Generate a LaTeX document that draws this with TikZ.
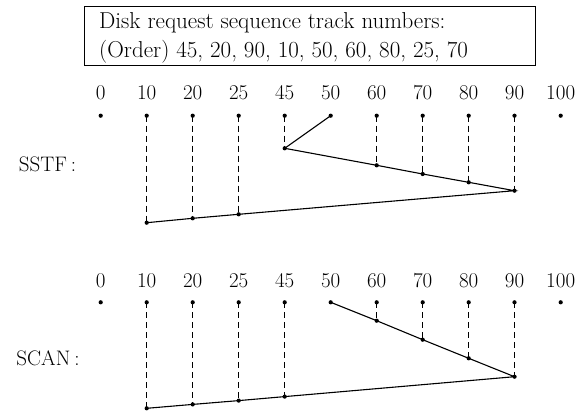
\documentclass[tikz,border=0pt]{standalone}
\begin{document}
\begin{tikzpicture}[x=1pt,y=-1pt,
  lbl/.style={font=\fontsize{21}{24}\selectfont, inner sep=0pt},
  pt/.style={circle, fill, inner sep=0pt, minimum size=4.2pt},
  seek/.style={line width=1.1pt},
  guide/.style={line width=1pt, dash pattern=on 6pt off 4pt}]
\useasboundingbox (0,0) rectangle (581,410);

% request box
\node[draw, line width=1pt, minimum width=451pt, minimum height=59pt, inner sep=0pt] (box) at (309.5,35.5) {};
\node[lbl, anchor=west, align=left, font=\fontsize{23}{29}\selectfont] (req) at (99,37.5)
  {Disk request sequence track numbers:\\(Order) 45, 20, 90, 10, 50, 60, 80, 25, 70};

% SSTF track axis
\foreach \t/\x in {0/100.7,10/146.7,20/192.7,25/238.7,45/284.7,50/330.7,60/376.7,70/422.7,80/468.7,90/514.5,100/560.7} {
  \node[lbl] (sl\t) at (\x,93) {\t};
  \node[pt] (st\t) at (\x,115.7) {};
}
\node[lbl] (sstf) at (47.5,164) {SSTF\hspace{4pt}:};

% SSTF service points
\node[pt] (sp45) at (284.7,148.3) {};
\node[pt] (sp60) at (376.7,165.3) {};
\node[pt] (sp70) at (422.7,174) {};
\node[pt] (sp80) at (468.7,182.3) {};
\node[pt] (sp90) at (514.5,190.7) {};
\node[pt] (sp25) at (238.7,214.3) {};
\node[pt] (sp20) at (192.7,218.3) {};
\node[pt] (sp10) at (146.7,222.7) {};

\foreach \t in {45,60,70,80,90,25,20,10}
  \draw[guide] (st\t.center) -- (sp\t.center);
\draw[seek] (st50.center) -- (sp45.center) -- (sp60.center) -- (sp70.center) -- (sp80.center)
  -- (sp90.center) -- (sp25.center) -- (sp20.center) -- (sp10.center);

% SCAN track axis
\foreach \t/\x in {0/100.7,10/146.7,20/192.7,25/238.7,45/284.7,50/330.7,60/376.7,70/422.7,80/468.7,90/514.5,100/560.7} {
  \node[lbl] (cl\t) at (\x,280.5) {\t};
  \node[pt] (ct\t) at (\x,302.3) {};
}
\node[lbl] (scan) at (48,358) {SCAN\hspace{4pt}:};

% SCAN service points
\node[pt] (cp60) at (376.7,320.7) {};
\node[pt] (cp70) at (422.7,339.7) {};
\node[pt] (cp80) at (468.7,358.3) {};
\node[pt] (cp90) at (514.5,376.7) {};
\node[pt] (cp45) at (284.7,396.6) {};
\node[pt] (cp25) at (238.7,400.6) {};
\node[pt] (cp20) at (192.7,404.4) {};
\node[pt] (cp10) at (146.7,408.3) {};

\foreach \t in {60,70,80,90,45,25,20,10}
  \draw[guide] (ct\t.center) -- (cp\t.center);
\draw[seek] (ct50.center) -- (cp60.center) -- (cp70.center) -- (cp80.center) -- (cp90.center)
  -- (cp45.center) -- (cp25.center) -- (cp20.center) -- (cp10.center);
\end{tikzpicture}
\end{document}
